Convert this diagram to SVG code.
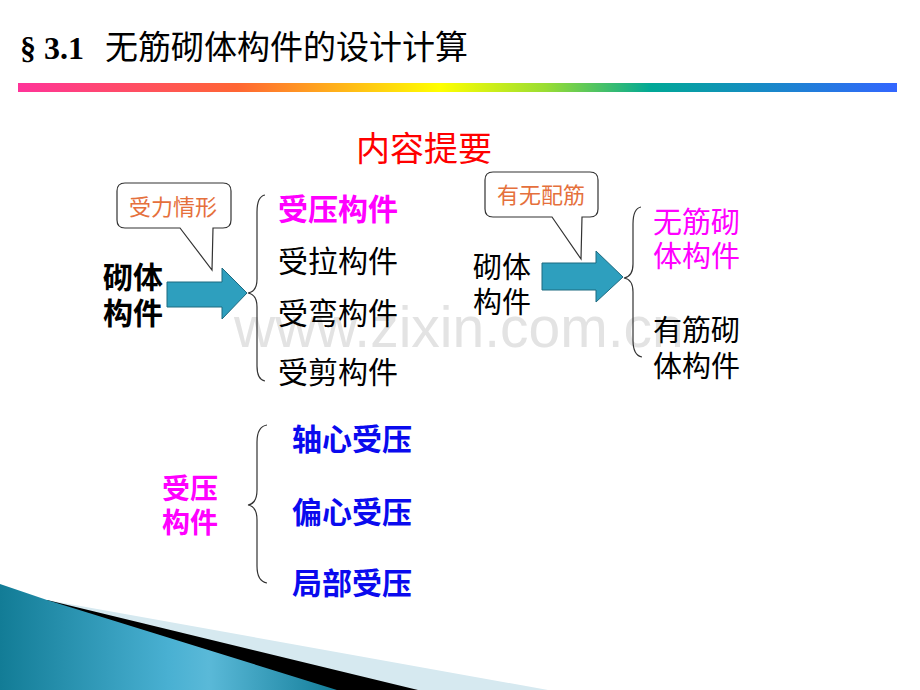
<svg xmlns="http://www.w3.org/2000/svg" width="920" height="690" viewBox="0 0 920 690">
<defs>
<linearGradient id="bar" x1="0" y1="0" x2="1" y2="0">
<stop offset="0" stop-color="#ff3399"/>
<stop offset="0.25" stop-color="#ff6633"/>
<stop offset="0.48" stop-color="#ffff00"/>
<stop offset="0.6" stop-color="#99dd33"/>
<stop offset="0.72" stop-color="#00a896"/>
<stop offset="1" stop-color="#3366ff"/>
</linearGradient>
<linearGradient id="teal" x1="0" y1="0" x2="1" y2="0">
<stop offset="0" stop-color="#127c96"/>
<stop offset="0.5" stop-color="#49b0d2"/>
<stop offset="0.62" stop-color="#5ab9d8"/>
<stop offset="1" stop-color="#137d99"/>
</linearGradient>
<style>
.cjk{font-family:"Noto Sans CJK SC","Noto Sans",sans-serif;}
.b{font-weight:bold;}
.blk{fill:#000;}
.mag{fill:#ff00ff;}
.blu{fill:#0a0aee;}
.org{fill:#e5703c;}
.brace{fill:none;stroke:#333;stroke-width:1.2;}
.arrow{fill:#2e9fbe;stroke:#1d6a80;stroke-width:1;}
.call{fill:#fff;stroke:#333;stroke-width:1.2;}
</style>
</defs>
<rect width="920" height="690" fill="#fff"/>

<g id="decoration">
<polygon points="47,600 548,690 47,690" fill="#d6e9f0"/>
<polygon points="47,600 418,690 47,690" fill="#000"/>
<polygon points="0,584 47,600 337,690 0,690" fill="url(#teal)"/>
</g>

<text x="234" y="347" font-family="Liberation Sans, Arial, sans-serif" font-size="57" fill="#e3e3e3">www.zixin.com.cn</text>

<g id="title">
<text x="20" y="59" font-family="Liberation Serif, serif" font-weight="bold" font-size="32" fill="#000">§ 3.1</text>
<text x="105" y="59" class="cjk" font-size="33" fill="#000">无筋砌体构件的设计计算</text>
<rect x="18" y="83" width="879" height="9" fill="url(#bar)"/>
</g>

<g id="heading">
<text x="356" y="161" class="cjk" font-size="34" fill="#ff0000">内容提要</text>
</g>

<g id="connectors">
<polygon class="arrow" points="167,282 222,282 222,268 247,293 222,319 222,307 167,307"/>
<polygon class="arrow" points="542,263 596,263 596,251 623,277 596,302 596,290 542,290"/>
<path class="brace" d="M265,195 C259,196 257,202 257,212 L257,279 C257,288 254,292 248,293 C254,294 257,298 257,307 L257,366 C257,375 259,380 265,381"/>
<path class="brace" d="M641,207 C636,208 633,214 633,224 L633,264 C633,273 630,277 624,278 C630,279 633,283 633,292 L633,340 C633,350 636,356 642,357"/>
<path class="brace" d="M267,425 C261,426 257,432 257,442 L257,490 C257,499 254,504 248,505 C254,506 257,511 257,520 L257,566 C257,576 261,582 267,583"/>
</g>

<g id="callout-force">
<path class="call" d="M125,183 H223 Q231,183 231,191 V220 Q231,228 223,228 H213 L212,270 L180,228 H125 Q117,228 117,220 V191 Q117,183 125,183 Z"/>
<text x="129" y="215" class="cjk org" font-size="22">受力情形</text>
</g>

<g id="callout-rebar">
<path class="call" d="M493,172 H590 Q598,172 598,180 V209 Q598,217 590,217 H582 L581,259 L552,217 H493 Q485,217 485,209 V180 Q485,172 493,172 Z"/>
<text x="497" y="203" class="cjk org" font-size="22">有无配筋</text>
</g>

<g id="masonry-left">
<text class="cjk b blk" font-size="30"><tspan x="103" y="288">砌体</tspan><tspan x="103" y="324">构件</tspan></text>
</g>

<g id="list-force">
<text x="278" y="220" class="cjk b mag" font-size="30">受压构件</text>
<text x="278" y="272" class="cjk blk" font-size="30">受拉构件</text>
<text x="278" y="324" class="cjk blk" font-size="30">受弯构件</text>
<text x="278" y="383" class="cjk blk" font-size="30">受剪构件</text>
</g>

<g id="masonry-right">
<text class="cjk blk" font-size="29"><tspan x="473" y="278">砌体</tspan><tspan x="473" y="313">构件</tspan></text>
</g>

<g id="list-rebar">
<text class="cjk mag" font-size="29"><tspan x="653" y="233">无筋砌</tspan><tspan x="653" y="267">体构件</tspan></text>
<text class="cjk blk" font-size="29"><tspan x="653" y="341">有筋砌</tspan><tspan x="653" y="377">体构件</tspan></text>
</g>

<g id="compression">
<text class="cjk b mag" font-size="28"><tspan x="162" y="499">受压</tspan><tspan x="162" y="533">构件</tspan></text>
</g>

<g id="list-compression">
<text x="292" y="450" class="cjk b blu" font-size="30">轴心受压</text>
<text x="292" y="523" class="cjk b blu" font-size="30">偏心受压</text>
<text x="292" y="594" class="cjk b blu" font-size="30">局部受压</text>
</g>
</svg>
